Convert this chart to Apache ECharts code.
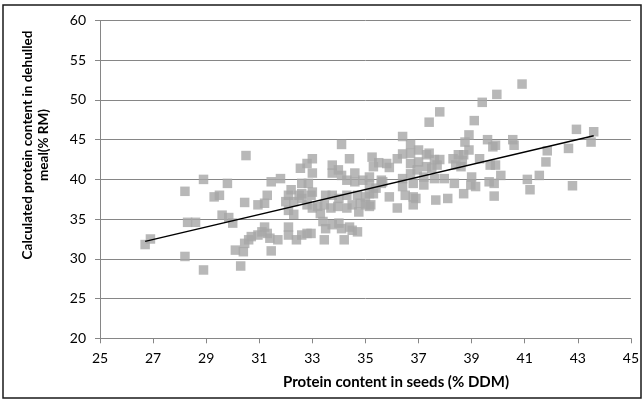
<!DOCTYPE html>
<html>
<head>
<meta charset="utf-8">
<script src="https://cdn.jsdelivr.net/npm/echarts@6/dist/echarts.min.js"></script>
<style>
  html, body { margin: 0; padding: 0; background: #fff; }
  #chart { width: 642px; height: 401px; }
</style>
</head>
<body>
<div id="chart"></div>
<script>
// 横轴刻度
const xTicks = [25, 27, 29, 31, 33, 35, 37, 39, 41, 43, 45]
const yTicks = [20, 25, 30, 35, 40, 45, 50, 55, 60]

// 种子蛋白含量 (% DDM)
const seedProtein = [
  26.7, 26.9, 28.2, 28.2, 28.3, 28.6, 28.9, 28.9, 29.3, 29.5, 29.8, 29.6, 29.85, 30.0, 30.1, 30.4, 30.3, 30.45, 30.5,
  30.45, 30.6, 30.7, 30.95, 31.1, 31.2, 31.3, 31.4, 31.45, 31.7, 30.95, 31.2, 31.3, 31.45, 31.8,
  32.0, 32.1, 32.2, 32.3, 32.5, 32.6, 32.1, 32.3, 32.8, 32.1, 32.1, 32.4, 32.6, 32.8, 32.55, 32.8, 32.6, 32.85, 32.6, 32.95, 33.0, 33.0, 33.0, 33.0, 32.95,
  33.2, 33.45, 33.7, 33.96, 33.3, 33.4, 33.5, 33.75, 34.0, 34.1, 33.45, 33.5, 33.75, 34.0, 33.75, 33.98, 33.75, 34.1,
  34.1, 34.4, 34.6, 34.3, 34.6, 34.9, 34.3, 34.7, 35.0, 34.3, 34.5, 34.8, 34.75, 34.4, 34.7, 34.2, 34.5,
  35.25, 35.3, 35.5, 35.15, 35.15, 35.15, 35.0, 35.2, 35.6, 35.15, 35.4, 35.3, 35.65, 35.6, 35.8, 35.9, 35.9,
  36.2, 36.4, 36.4, 36.7, 36.7, 36.7, 37.0, 36.95, 36.4, 36.4, 36.8, 36.2, 36.5, 36.8, 36.9, 36.8, 37.0, 36.7,
  37.3, 37.6, 37.3, 37.5, 37.7, 37.2, 37.2, 37.6, 37.65, 37.4, 37.8, 37.4, 37.8, 37.97, 38.1,
  38.3, 38.5, 38.65, 38.4, 38.6, 38.35, 38.7, 38.75, 38.9, 38.9, 38.7, 39.0, 38.97, 39.15, 39.1, 39.3, 39.4, 39.6, 39.8, 39.9, 39.7, 39.9, 39.66, 39.85, 39.85, 39.95, 40.1,
  40.9, 40.55, 40.6, 41.1, 41.2, 41.55, 41.8, 41.85, 42.65, 42.8, 42.95, 43.6, 43.5
]

// 脱壳粕中计算蛋白含量 (% RM)
const mealProtein = [
  31.8, 32.5, 38.5, 30.3, 34.6, 34.6, 28.6, 40.0, 37.8, 38.0, 39.5, 35.5, 35.2, 34.5, 31.1, 30.9, 29.1, 37.1, 43.0,
  31.95, 32.4, 32.8, 33.0, 33.4, 34.0, 33.2, 32.6, 31.0, 32.4, 36.8, 37.0, 38.0, 39.7, 40.1,
  37.2, 38.0, 38.7, 37.2, 38.0, 37.6, 36.1, 35.6, 36.8, 34.0, 33.0, 32.4, 33.0, 33.2, 41.4, 42.0, 39.5, 39.5, 38.2, 38.0, 38.4, 42.6, 40.8, 36.4, 33.2,
  36.6, 36.8, 36.4, 36.6, 35.7, 34.7, 33.8, 34.3, 34.5, 33.8, 32.4, 38.0, 38.0, 37.6, 41.8, 41.2, 40.8, 40.5,
  44.4, 42.6, 40.8, 39.9, 39.7, 39.9, 38.0, 38.0, 37.8, 36.4, 36.8, 37.0, 35.9, 34.0, 33.4, 32.4, 33.6,
  42.8, 41.6, 42.1, 40.3, 38.2, 36.6, 36.8, 36.8, 39.9, 39.3, 38.9, 38.2, 39.7, 39.5, 42.0, 41.5, 37.8,
  42.6, 43.2, 45.4, 44.4, 43.3, 42.0, 42.2, 41.2, 40.1, 39.1, 39.5, 36.4, 38.0, 37.8, 37.6, 36.8, 43.7, 40.7,
  43.1, 42.5, 41.6, 41.4, 41.8, 40.3, 39.3, 40.1, 37.4, 47.2, 48.5, 43.3, 42.5, 40.1, 37.6,
  42.6, 43.1, 42.4, 41.8, 41.6, 39.5, 38.2, 44.7, 45.6, 43.7, 43.1, 40.3, 39.3, 39.1, 47.4, 42.6, 49.7, 45.0, 44.1, 44.3, 41.8, 41.8, 39.7, 39.5, 37.9, 50.7, 40.5,
  52.0, 45.0, 44.3, 40.0, 38.7, 40.5, 42.2, 43.6, 43.9, 39.2, 46.3, 46.0, 44.7
]

// 趋势线端点
const trendX = [26.7, 43.6]
const trendY = [32.2, 45.5]

const points = seedProtein.map((x, i) => [x, mealProtein[i]])
const trend = trendX.map((x, i) => [x, trendY[i]])

const font = 'Lato, "Open Sans", sans-serif'
const chart = echarts.init(document.getElementById('chart'))

chart.setOption({
  animation: false,
  grid: { left: 100, right: 10, top: 20.5, bottom: 62.7 },
  xAxis: {
    type: 'value',
    min: xTicks[0],
    max: xTicks[xTicks.length - 1],
    interval: 2,
    axisLine: { show: true, lineStyle: { color: '#868686', width: 1 } },
    axisTick: { show: true, length: 5, lineStyle: { color: '#868686' } },
    axisLabel: { margin: 13, color: '#000', fontSize: 14, fontFamily: font },
    splitLine: { show: false }
  },
  yAxis: {
    type: 'value',
    min: yTicks[0],
    max: yTicks[yTicks.length - 1],
    interval: 5,
    axisLine: { show: true, lineStyle: { color: '#868686', width: 1 } },
    axisTick: { show: true, length: 5, lineStyle: { color: '#868686' } },
    axisLabel: { margin: 14, color: '#000', fontSize: 14, fontFamily: font },
    splitLine: { show: true, lineStyle: { color: '#868686', width: 1 } }
  },
  series: [
    {
      type: 'scatter',
      data: points,
      symbol: 'rect',
      symbolSize: 9.5,
      itemStyle: { color: '#a6a6a6' },
      z: 2
    },
    {
      type: 'line',
      data: trend,
      showSymbol: false,
      symbol: 'none',
      lineStyle: { color: '#000', width: 1.5 },
      z: 3
    }
  ],
  graphic: [
    {
      type: 'rect',
      shape: { x: 3, y: 5, width: 638, height: 393 },
      style: { fill: 'none', stroke: '#1a1a1a', lineWidth: 1.5 },
      silent: true
    },
    {
      type: 'text',
      x: 396, y: 382,
      style: {
        text: 'Protein content in seeds (% DDM)',
        font: 'bold 15px ' + font,
        fill: '#000',
        align: 'center',
        verticalAlign: 'middle'
      }
    },
    {
      type: 'text',
      x: 36, y: 145,
      rotation: Math.PI / 2,
      style: {
        text: 'Calculated protein content in dehulled\nmeal(% RM)',
        font: 'bold 13.5px ' + font,
        fill: '#000',
        align: 'center',
        verticalAlign: 'middle',
        lineHeight: 16
      }
    }
  ]
})
</script>
</body>
</html>
